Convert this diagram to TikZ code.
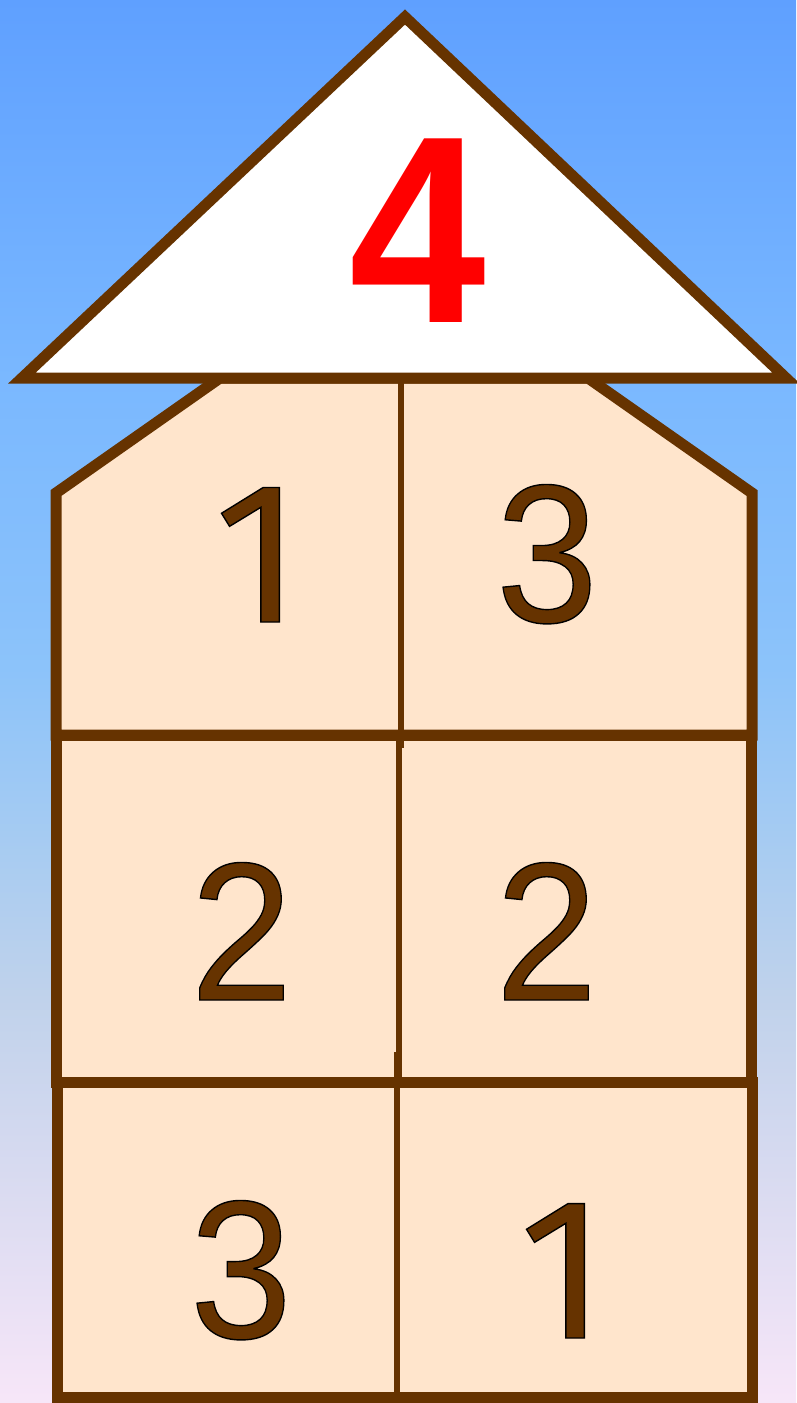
\documentclass[tikz,border=0pt]{standalone}
\usepackage{fontspec}
\setmainfont{Liberation Sans}
\newfontfamily\onefont{Fira Sans}
\definecolor{brownline}{RGB}{102,51,0}
\definecolor{wallfill}{RGB}{255,229,204}
\definecolor{roofred}{RGB}{255,0,0}
% vertical shading: 25bp = bottom of path, 75bp = top of path
\pgfdeclareverticalshading{sky}{100bp}{
  color(0bp)=(rgb,255:red,247;green,230;blue,248);
  color(25bp)=(rgb,255:red,247;green,230;blue,248);
  color(33.4bp)=(rgb,255:red,215;green,218;blue,240);
  color(39.4bp)=(rgb,255:red,192;green,210;blue,235);
  color(45.3bp)=(rgb,255:red,165;green,203;blue,242);
  color(51.2bp)=(rgb,255:red,140;green,195;blue,250);
  color(61.5bp)=(rgb,255:red,122;green,184;blue,255);
  color(75bp)=(rgb,255:red,95;green,160;blue,255);
  color(100bp)=(rgb,255:red,95;green,160;blue,255)}
\newcommand{\outlined}[1]{\special{pdf:literal direct 2 Tr 1.4 w 0 0 0 RG}#1\special{pdf:literal direct 0 Tr}}
\newcommand{\narrowdigit}[1]{\scalebox{0.93}[1]{\outlined{#1}}}
\newcommand{\onedigit}{{\onefont\fontsize{201}{201}\selectfont\outlined{1}}}
\tikzset{
  wall/.style={fill=wallfill, draw=brownline, line width=11pt, line join=miter},
  divider/.style={draw=brownline, line width=6pt},
  digit/.style={inner sep=0pt, anchor=base, text=brownline, font=\fontsize{197}{197}\selectfont},
  roofdigit/.style={inner sep=0pt, anchor=base, text=roofred, font=\fontsize{267}{267}\selectfont\bfseries}
}
\begin{document}
\begin{tikzpicture}[x=1pt,y=-1pt]
\useasboundingbox (0,0) rectangle (796,1403);
\shade[shading=sky] (0,0) rectangle (796,1403);
% body sections
\draw[wall] (220,378) -- (56,493) -- (56,735) -- (752,735) -- (752,493) -- (588,378) -- cycle;
\draw[wall] (56,735) rectangle (751,1082);
\draw[wall] (57,1082) rectangle (752,1397.5);
% dividers
\coordinate (d1a) at (401,378); \coordinate (d1b) at (401,748);
\coordinate (d2a) at (399,741); \coordinate (d2b) at (399,1082);
\coordinate (d3a) at (397,1052); \coordinate (d3b) at (397,1397);
\draw[divider] (d1a) -- (d1b);
\draw[divider] (d2a) -- (d2b);
\draw[divider] (d3a) -- (d3b);
% horizontal borders over dividers
\draw[draw=brownline, line width=11pt] (56,735) -- (752,735);
\draw[draw=brownline, line width=11pt] (56,1082) -- (752,1082);
% roof
\draw[fill=white, draw=brownline, line width=11pt, line join=miter] (405,17) -- (22,378) -- (786,378) -- cycle;
\node[roofdigit] (n4) at (418,322) {\scalebox{0.92}[1]{4}};
% digits
\node[digit] (a1) at (258,622) {\onedigit};
\node[digit] (a2) at (547,622) {\narrowdigit{3}};
\node[digit] (b1) at (241.5,1000) {\narrowdigit{2}};
\node[digit] (b2) at (546.5,1000) {\narrowdigit{2}};
\node[digit] (c1) at (241,1338) {\narrowdigit{3}};
\node[digit] (c2) at (563,1338) {\onedigit};
\end{tikzpicture}
\end{document}
